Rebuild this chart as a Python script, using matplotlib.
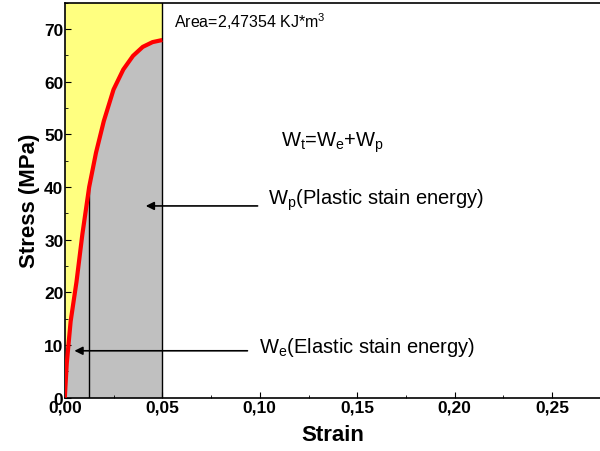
import numpy as np
import matplotlib.pyplot as plt
from matplotlib.ticker import MultipleLocator, FuncFormatter

plt.rcParams['font.family'] = ['Liberation Sans', 'DejaVu Sans']
plt.rcParams['mathtext.default'] = 'regular'

# stress-strain curve
strain = [0.0, 0.001, 0.003, 0.006, 0.009, 0.0125, 0.016, 0.020, 0.025,
          0.030, 0.035, 0.040, 0.045, 0.050]
stress = [0.0, 6.5, 14.5, 22.0, 31.0, 40.0, 46.5, 52.5, 58.5,
          62.3, 64.9, 66.6, 67.5, 67.9]

strain_end = 0.05       # upper limit of the integrated area
strain_elastic = 0.0125  # elastic / plastic split
stress_elastic = 40.5
stress_top = 75

area_label = 'Area=2,47354 KJ*m$^3$'

fig = plt.figure(figsize=(6, 4.52), dpi=100)
ax = fig.add_axes([0.108, 0.118, 0.892, 0.874])

s = np.array(strain)
t = np.array(stress)

# yellow above the curve, grey below
ax.fill_between(s, t, stress_top, color='#ffff80', lw=0, zorder=1)
ax.fill_between(s, 0, t, color='#c0c0c0', lw=0, zorder=1)
ax.plot(s, t, color='k', lw=0.8, zorder=2)
ax.plot(s, t, color='red', lw=3, zorder=3, solid_capstyle='butt', solid_joinstyle='round')

ax.plot([strain_end, strain_end], [0, stress_top], color='k', lw=1, zorder=2)
ax.plot([strain_elastic, strain_elastic], [0, stress_elastic], color='k', lw=1, zorder=2)

ax.annotate('', xy=(0.0401, 36.4), xytext=(0.1003, 36.4),
            arrowprops=dict(arrowstyle='-|>', color='k', lw=1.2, mutation_scale=12))
ax.text(0.1043, 37.6, 'W$_p$(Plastic stain energy)', fontsize=14.5,
        ha='left', va='center')

ax.annotate('', xy=(0.0035, 8.9), xytext=(0.0951, 8.9),
            arrowprops=dict(arrowstyle='-|>', color='k', lw=1.2, mutation_scale=12))
ax.text(0.0996, 9.8, 'W$_e$(Elastic stain energy)', fontsize=14.5,
        ha='left', va='center')

ax.text(0.0561, 71.6, area_label, fontsize=11.5, ha='left', va='center')
ax.text(0.111, 48.6, 'W$_t$=W$_e$+W$_p$', fontsize=14.5, ha='left', va='center')

ax.set_xlim(0, 0.2745)
ax.set_ylim(0, stress_top)
ax.spines['right'].set_visible(False)
for sp in ax.spines.values():
    sp.set_linewidth(1.2)

ax.xaxis.set_major_locator(MultipleLocator(0.05))
ax.xaxis.set_minor_locator(MultipleLocator(0.025))
ax.yaxis.set_major_locator(MultipleLocator(10))
ax.yaxis.set_minor_locator(MultipleLocator(5))
ax.xaxis.set_major_formatter(FuncFormatter(lambda v, p: f'{v:.2f}'.replace('.', ',')))
ax.yaxis.set_major_formatter(FuncFormatter(lambda v, p: f'{v:.0f}'))
ax.tick_params(which='both', direction='in', top=False, right=False)
ax.tick_params(which='major', length=4, labelsize=12.5, pad=1)
ax.tick_params(which='minor', length=2)
for lab in ax.get_xticklabels() + ax.get_yticklabels():
    lab.set_fontweight('bold')

ax.set_xlabel('Strain', fontsize=16, fontweight='bold', labelpad=7)
ax.set_ylabel('Stress (MPa)', fontsize=16, fontweight='bold', labelpad=3)

fig.savefig('out.png', dpi=100)
